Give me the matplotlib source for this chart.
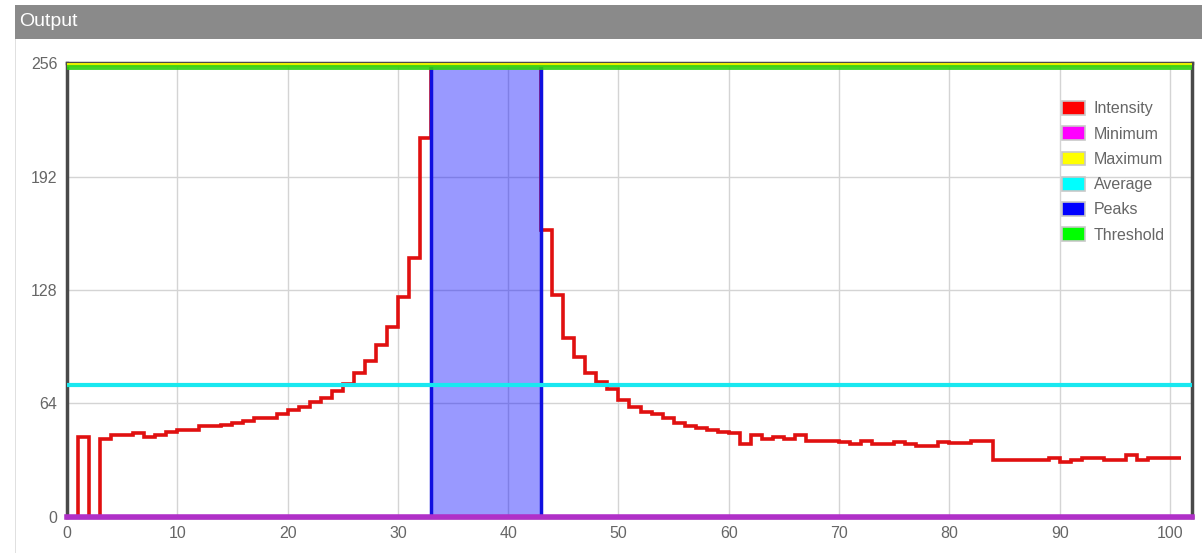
import matplotlib.pyplot as plt
import numpy as np
from matplotlib.patches import Patch, Rectangle

plt.rcParams['font.family'] = ['Liberation Sans', 'DejaVu Sans']

# Intensity per bin (bin i spans i..i+1)
intensity = [
    0, 45, 0, 44, 46, 46, 47, 45, 46, 48,
    49, 49, 51, 51, 52, 53, 54, 56, 56, 58,
    60, 62, 65, 67, 71, 75, 81, 88, 97, 107,
    124, 146, 214, 255, 255, 255, 255, 255, 255, 255,
    255, 255, 255, 162, 125, 101, 90, 81, 76, 72,
    66, 62, 59, 58, 56, 53, 51, 50, 49, 48,
    47, 41, 46, 44, 45, 44, 46, 43, 43, 43,
    42, 41, 43, 41, 41, 42, 41, 40, 40, 42,
    41.5, 41.5, 43, 43, 32, 32, 32, 32, 32, 33,
    31, 32, 33, 33, 32, 32, 35, 32, 33, 33,
    33,
]
minimum = 0
maximum = 255
average = 74.3
threshold = 253.8
peak_start, peak_end = 33, 43

x_ticks = [0, 10, 20, 30, 40, 50, 60, 70, 80, 90, 100]
y_ticks = [0, 64, 128, 192, 256]

fig = plt.figure(figsize=(12.02, 5.53), dpi=100)

# header bar
fig.patches.append(Rectangle((15 / 1202, 1 - 38.5 / 553), 1 - 15 / 1202, 33 / 553,
                             transform=fig.transFigure, facecolor='#8a8a8a',
                             edgecolor='none'))
fig.patches.append(Rectangle((15 / 1202, 0), 0.0008, 1 - 38.5 / 553,
                             transform=fig.transFigure, facecolor='#e0e0e0',
                             edgecolor='none'))
fig.text(19 / 1202, 1 - 22 / 553, 'Output', color='white', fontsize=14,
         va='center', ha='left')

ax = fig.add_axes([67 / 1202, 36.3 / 553, 1125 / 1202, 453.3 / 553])
ax.set_xlim(0, 102)
ax.set_ylim(0, 256)

edges = np.arange(len(intensity) + 1)
ax.stairs(intensity, edges, baseline=None, color='#e01010', lw=2.6, zorder=3)

# peaks region
ax.axvspan(peak_start, peak_end, facecolor='#0000ff', alpha=0.4, lw=0, zorder=4)
ax.add_patch(Rectangle((peak_start, 0), peak_end - peak_start, 256, fill=False,
                       edgecolor='#1010e0', lw=2.5, zorder=5))

ax.axhline(average, color='#19e8f0', lw=3, zorder=6)
ax.axhline(maximum, color='#e8f000', lw=3, zorder=6)
ax.axhline(threshold, color='#2ed012', lw=3.5, alpha=0.9, zorder=7)
ax.axhline(minimum, color='#b030c8', lw=4, zorder=7, clip_on=False)

ax.set_xticks(x_ticks)
ax.set_yticks(y_ticks)
ax.grid(True, color='#d4d4d4', lw=1, zorder=0)
ax.set_axisbelow(True)
ax.tick_params(length=0, labelsize=11.5, colors='#666666', pad=7)
for s in ax.spines.values():
    s.set_color('#4a4a4a')
    s.set_linewidth(2.5)

handles = [
    Patch(facecolor='#ff0000', edgecolor='#c8c8c8', lw=1.2, label='Intensity'),
    Patch(facecolor='#ff00ff', edgecolor='#c8c8c8', lw=1.2, label='Minimum'),
    Patch(facecolor='#ffff00', edgecolor='#c8c8c8', lw=1.2, label='Maximum'),
    Patch(facecolor='#00ffff', edgecolor='#c8c8c8', lw=1.2, label='Average'),
    Patch(facecolor='#0000ff', edgecolor='#c8c8c8', lw=1.2, label='Peaks'),
    Patch(facecolor='#00ff00', edgecolor='#c8c8c8', lw=1.2, label='Threshold'),
]
leg = ax.legend(handles=handles, loc='upper left',
                bbox_to_anchor=(1054 / 1202, 1 - 93 / 553),
                bbox_transform=fig.transFigure, frameon=False, fontsize=11.5,
                handlelength=1.45, handleheight=0.95, labelspacing=0.62,
                handletextpad=0.55, borderpad=0)
for t in leg.get_texts():
    t.set_color('#666666')

plt.savefig('out.png', dpi=100)
